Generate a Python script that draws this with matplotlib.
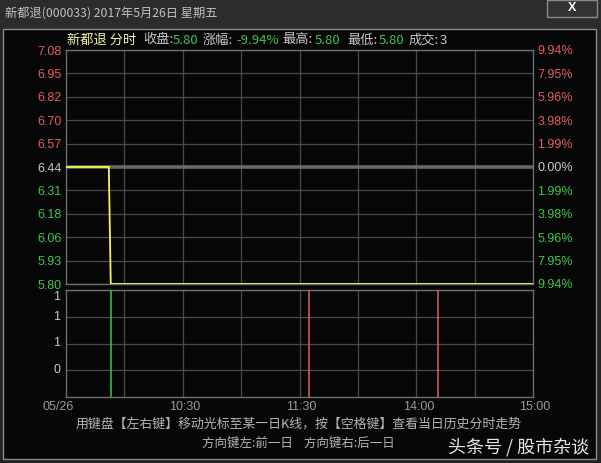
import matplotlib
matplotlib.use("Agg")
import matplotlib.pyplot as plt
from matplotlib.patches import Rectangle
from matplotlib.transforms import ScaledTranslation, blended_transform_factory
import numpy as np

# ---------------- data ----------------
stock_name = "新都退"
stock_code = "000033"
date_title = "2017年5月26日 星期五"
prev_close = 6.44
close_price = 5.80
change_pct = -9.94
high_price = 5.80
low_price = 5.80
total_volume = 3

# intraday price path (minute index since 9:30, trading minutes 0..240)
price_minutes = [0, 22, 23, 240]
price_values = [6.44, 6.44, 5.80, 5.80]

# volume ticks
vol_minutes = [23, 125, 191]
vol_values = [1, 1, 1]
vol_up = [False, True, True]

price_tick_labels = ["5.80", "5.93", "6.06", "6.18", "6.31", "6.44",
                     "6.57", "6.70", "6.82", "6.95", "7.08"]
pct_tick_labels = ["9.94%", "7.95%", "5.96%", "3.98%", "1.99%", "0.00%",
                   "1.99%", "3.98%", "5.96%", "7.95%", "9.94%"]
vol_tick_values = [0.25, 0.5, 0.75, 1.0]
vol_tick_labels = ["0", "1", "1", "1"]
time_tick_minutes = [0, 60, 120, 180, 240]
time_tick_labels = ["05/26", "10:30", "11:30", "14:00", "15:00"]

footer1 = "用键盘【左右键】移动光标至某一日K线，按【空格键】查看当日历史分时走势"
footer2 = "方向键左:前一日    方向键右:后一日"
watermark = "头条号 / 股市杂谈"

# ---------------- style ----------------
W, H = 601, 463
CJK = ["Noto Sans CJK SC", "DejaVu Sans"]
NUM = ["Liberation Sans", "DejaVu Sans"]
RED = "#e25e5e"
GREEN = "#3fc54f"
GRAY_TXT = "#c8c8c8"
GRID = "#4a4a4a"
SPINE = "#6e6e6e"
BG = "#070707"

fig = plt.figure(figsize=(W / 100, H / 100), dpi=100)
fig.patch.set_facecolor("#232323")


def px_rect(l, t, r, b):
    return [l / W, 1 - b / H, (r - l) / W, (b - t) / H]


def fx(x):
    return x / W


def fy(y):
    return 1 - y / H


# window frame
fig.patches.append(Rectangle((0, fy(29)), 1, fy(0) - fy(29), transform=fig.transFigure,
                             facecolor="#2c2c2c", edgecolor="none", zorder=-10))
fig.patches.append(Rectangle((fx(3), fy(459)), fx(596) - fx(3), fy(29) - fy(459),
                             transform=fig.transFigure, facecolor=BG,
                             edgecolor="#8a8a8a", lw=1.0, zorder=-9))
fig.patches.append(Rectangle((fx(547), fy(17)), fx(597) - fx(547), fy(0) - fy(17),
                             transform=fig.transFigure, facecolor="#333333",
                             edgecolor="#8a8a8a", lw=1.0, zorder=-8))
fig.text(fx(572), fy(8), "X", color="white", fontsize=9, fontweight="bold",
         ha="center", va="center", family=NUM)
fig.text(fx(5), fy(13), f"{stock_name}({stock_code}) {date_title}", color="#c0c0c0",
         fontsize=8.8, ha="left", va="center", family=CJK)

# ---------------- price panel ----------------
ax = fig.add_axes(px_rect(66, 50, 533, 284))
ax.set_facecolor(BG)
lo, hi = 5.80, 7.08
ax.set_xlim(0, 240)
ax.set_ylim(lo, hi)
yt = np.linspace(lo, hi, len(price_tick_labels))
ax.set_yticks(yt)
ax.set_yticklabels(price_tick_labels)
ax.set_xticks(np.arange(30, 240, 30))
ax.set_xticklabels([])
ax.tick_params(axis="both", length=0)
ax.tick_params(axis="y", pad=3)
ax.grid(True, color=GRID, lw=0.9)
ax.set_axisbelow(True)
for s in ax.spines.values():
    s.set_color(SPINE)
    s.set_linewidth(1.0)
mid = len(price_tick_labels) // 2
for i, lab in enumerate(ax.get_yticklabels()):
    lab.set_family(NUM)
    lab.set_fontsize(9)
    lab.set_color(RED if i > mid else (GREEN if i < mid else GRAY_TXT))

ax2 = ax.twinx()
ax2.set_ylim(lo, hi)
ax2.set_yticks(yt)
ax2.set_yticklabels(pct_tick_labels[::-1])
ax2.tick_params(axis="y", length=0, pad=3)
for s in ax2.spines.values():
    s.set_visible(False)
for i, lab in enumerate(ax2.get_yticklabels()):
    lab.set_family(NUM)
    lab.set_fontsize(9)
    lab.set_color(RED if i > mid else (GREEN if i < mid else GRAY_TXT))

ax.axhline(prev_close, color="#686868", lw=2.6, zorder=2)
ax.plot(price_minutes, price_values, color="#f4f45a", lw=1.3, zorder=3,
        solid_joinstyle="miter")

# header
hy = fy(40)
pieces = [
    (f"{stock_name} 分时", 67, "#f3f3b0"),
    ("收盘:", 143, GRAY_TXT), (f"{close_price:.2f}", 173, GREEN),
    ("涨幅:", 203, GRAY_TXT), (f"{change_pct:.2f}%", 236, GREEN),
    ("最高:", 282, GRAY_TXT), (f"{high_price:.2f}", 315, GREEN),
    ("最低:", 347, GRAY_TXT), (f"{low_price:.2f}", 379, GREEN),
    ("成交:", 409, GRAY_TXT), (f"{total_volume}", 440, GRAY_TXT),
]
for txt, x, c in pieces:
    fig.text(fx(x), hy, txt, color=c, fontsize=9.5, ha="left", va="center", family=CJK)

# ---------------- volume panel ----------------
axv = fig.add_axes(px_rect(66, 290, 533, 397))
axv.set_facecolor(BG)
axv.set_xlim(0, 240)
axv.set_ylim(0, 1)
axv.set_yticks(vol_tick_values)
axv.set_yticklabels([])
axv.set_xticks(np.arange(30, 240, 30))
axv.set_xticklabels([])
axv.tick_params(axis="both", length=0)
axv.grid(True, color=GRID, lw=0.9)
axv.set_axisbelow(True)
for s in axv.spines.values():
    s.set_color(SPINE)
    s.set_linewidth(1.0)
vcolors = [RED if u else GREEN for u in vol_up]
axv.vlines(vol_minutes, 0, vol_values, colors=vcolors, lw=1.1, zorder=3)

tr = blended_transform_factory(axv.transAxes, axv.transData)
for v, lab in zip(vol_tick_values, vol_tick_labels):
    va = "top" if v == max(vol_tick_values) else "center"
    off = ScaledTranslation(0, -1 / 100 if va == "top" else 0, fig.dpi_scale_trans)
    axv.text(-0.012, v, lab, transform=tr + off, ha="right", va=va,
             color=GRAY_TXT, fontsize=9, family=NUM)

trx = blended_transform_factory(axv.transData, axv.transAxes)
for m, lab in zip(time_tick_minutes, time_tick_labels):
    dx = -8 / 100 if m == 0 else 0.02
    off = ScaledTranslation(dx, -4 / 100, fig.dpi_scale_trans)
    axv.text(m, 0, lab, transform=trx + off, ha="center", va="top",
             color="#9a9a9a", fontsize=9, family=NUM)

# footer
fig.text(fx(299), fy(424), footer1, color="#b4b4b4", fontsize=9.3, ha="center",
         va="center", family=CJK)
fig.text(fx(298), fy(443), footer2, color="#b4b4b4", fontsize=9, ha="center",
         va="center", family=CJK)
fig.text(fx(589), fy(447), watermark, color="#e6e6e6", fontsize=13, ha="right",
         va="center", family=CJK)

fig.savefig("out.png", dpi=100, facecolor=fig.get_facecolor())
